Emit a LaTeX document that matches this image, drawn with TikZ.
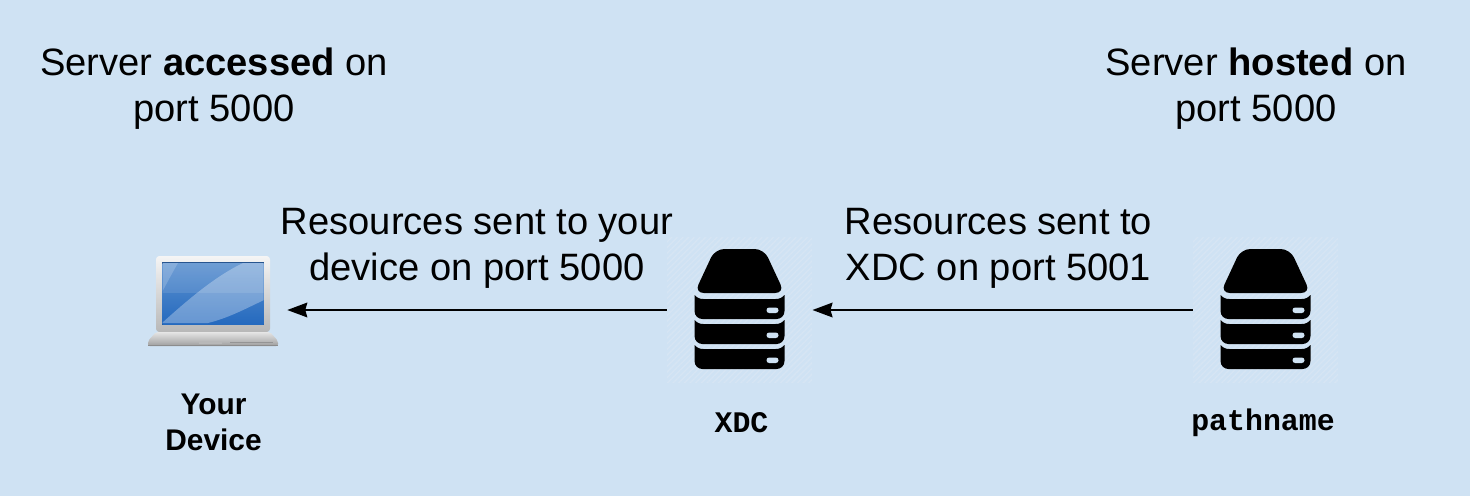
\documentclass[tikz,border=0pt]{standalone}
\usepackage{fontspec}
\setmainfont{Liberation Sans}
\setmonofont{Liberation Mono}
\usetikzlibrary{arrows.meta,patterns.meta}
\definecolor{bgblue}{HTML}{CFE2F3}
\definecolor{hatchblue}{HTML}{D6E5F3}
\definecolor{screenedge}{HTML}{27558F}
\definecolor{screentop}{HTML}{5F93D0}
\definecolor{screenlow}{HTML}{2469BE}
\tikzset{
	big text/.style={font=\fontsize{28.6}{34.5}\selectfont, align=center, anchor=base},
	small text/.style={font=\fontsize{22.4}{27}\selectfont\bfseries, align=center},
	link/.style={black, line width=1.5pt, ->, >={Stealth[length=15pt,width=11pt,inset=1.5pt]}},
	server box/.style={minimum size=108.5pt, inner sep=0pt,
		pattern={Lines[angle=45,distance=3pt,line width=1pt]}, pattern color=hatchblue},
	device box/.style={minimum size=111pt, inner sep=0pt},
	server/.pic={
		% top cover
		\fill[black, rounded corners=7pt] (-24.5,-61) -- (24.5,-61) -- (45,-17) -- (-45,-17) -- cycle;
		% 3 drawers
		\foreach \y in {0, 25, 50} {
			\fill[black] (-45,-15+\y) .. controls (-42,-12+\y) and (-40,-11+\y) .. (-36,-11+\y)
				-- (36,-11+\y) .. controls (40,-11+\y) and (42,-12+\y) .. (45,-15+\y)
				-- (45,1+\y) .. controls (45,6+\y) and (41,9+\y) .. (37,9+\y)
				-- (-37,9+\y) .. controls (-41,9+\y) and (-45,6+\y) .. (-45,1+\y) -- cycle;
			\fill[bgblue, rounded corners=2pt] (27,-2.5+\y) rectangle (39,3+\y);
		}
	},
	laptop/.pic={
		% lid
		\shade[top color=white!96!black, bottom color=black!28, rounded corners=2.5pt] (-57,22) -- (-57,-54) -- (57,-54) -- (57,22) -- cycle;
		% screen
		\fill[screenedge] (-51,-48) rectangle (51,15);
		\begin{scope}
			\clip (-50.5,-47) rectangle (50.5,14.5);
			\shade[top color=screentop, bottom color=screenlow] (-51,-48) rectangle (51,15);
			\fill[white, opacity=.3] (-51,13) .. controls (-20,-15) and (5,-35) .. (30,-47) -- (51,-47) -- (51,-10) .. controls (30,0) and (15,8) .. (-5,13) -- cycle;
			\fill[white, opacity=.18] (-51,-47) -- (-35,-47) .. controls (-42,-35) and (-47,-25) .. (-51,-18) -- cycle;
			\fill[white, opacity=.1] (-51,-17) rectangle (51,-47);
		\end{scope}
		% base
		\shade[top color=black!10, bottom color=black!38, rounded corners=1.5pt] (-57,22) -- (57,22) -- (65,31) -- (65,36) -- (-65,36) -- (-65,31) -- cycle;
		\fill[black!45] (-65,34.5) rectangle (65,36);
		\fill[black!42] (17,31.5) rectangle (60,32.5);
		\fill[black!28] (-14,32) rectangle (9,34);
	}
}

\begin{document}
\begin{tikzpicture}[x=0.75pt, y=-0.75pt]
	\fill[bgblue] (0,0) rectangle (1470,496);
	\useasboundingbox (0,0) rectangle (1470,496);
	% boxes
	\node[device box] (device) at (213,310) {};
	\node[server box] (xdc) at (739.5,310) {};
	\node[server box] (host) at (1265.5,310) {};
	\pic at (device) {laptop};
	\pic at (xdc) {server};
	\pic at (host) {server};
	% links
	\draw[link] (xdc.west) -- (device.east);
	\draw[link] (host.west) -- (xdc.east);
	% top captions
	\node[big text] (accessed) at (214,121) {Server \textbf{accessed} on\\port 5000};
	\node[big text] (hosted) at (1256,121) {Server \textbf{hosted} on\\port 5000};
	\node[big text] (toyou) at (477,280) {Resources sent to your\\device on port 5000};
	\node[big text] (toxdc) at (998.5,280) {Resources sent to\\XDC on port 5001};
	% names
	\node[small text] (yourdevice) at (213.5,422) {Your\\Device};
	\node[small text] (xdcname) at (741.5,423) {\ttfamily XDC};
	\node[small text] (hostname) at (1263,423) {\ttfamily pathname};
\end{tikzpicture}
\end{document}
